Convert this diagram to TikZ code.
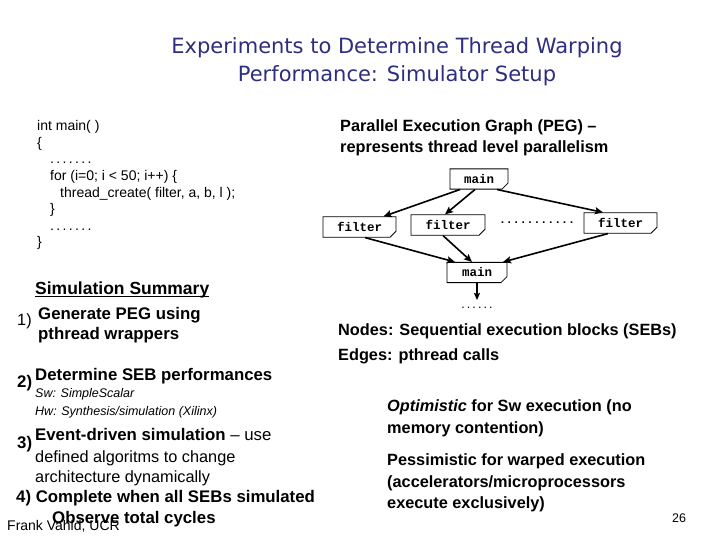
\documentclass[tikz,border=0pt]{standalone}
\usepackage{fontspec}
\setmainfont{Liberation Sans}
\newfontfamily\titlefont{DejaVu Sans}
\newfontfamily\codefont{Liberation Mono}
\usetikzlibrary{positioning, arrows.meta, shapes.misc}
\definecolor{titleblue}{HTML}{2E2E7E}

\begin{document}
\begin{tikzpicture}[
  x=1pt, y=-1pt,
  every node/.style={inner sep=0pt, anchor=base west},
  heading/.style={font=\titlefont\fontsize{21}{25}\selectfont, text=titleblue, anchor=base},
  code/.style={font=\fontsize{14}{16}\selectfont},
  bold/.style={font=\bfseries\fontsize{16.8}{19}\selectfont},
  body/.style={font=\bfseries\fontsize{16.3}{19}\selectfont},
  plain/.style={font=\fontsize{16.3}{19}\selectfont},
  note/.style={font=\itshape\fontsize{12.5}{15}\selectfont},
  small/.style={font=\fontsize{12.5}{15}\selectfont},
  seb/.style={
    chamfered rectangle, chamfered rectangle corners=south east,
    chamfered rectangle xsep=2.5pt,
    draw=black, line width=0.8pt, fill=white,
    anchor=center, inner xsep=4pt, inner ysep=2pt,
    minimum height=20pt,
    font=\codefont\bfseries\fontsize{12.5}{14}\selectfont
  },
  call/.style={-{Stealth[length=8pt, width=7pt, inset=1.5pt]}, line width=1.6pt},
  down/.style={-{Stealth[length=7pt, width=6pt, inset=1pt]}, line width=1.2pt}
]
\useasboundingbox (0,0) rectangle (720,540);
\fill[white] (0,0) rectangle (720,540);

% --- Title
\node[heading] (title1) at (397,53.5) {Experiments to Determine Thread Warping};
\node[heading] (title2) at (397,81.5) {Performance: Simulator Setup};

% --- Source code (top left)
\node[code] (c1) at (37,131) {int main( )};
\node[code] (c2) at (37,147.5) {\{};
\node[code] (c3) at (50,164) {.\,.\,.\,.\,.\,.\,.};
\node[code] (c4) at (50,180.5) {for (i=0; i < 50; i++) \{};
\node[code] (c5) at (60,197) {thread\_create( filter, a, b, l );};
\node[code] (c6) at (50,213.5) {\}};
\node[code] (c7) at (50,230) {.\,.\,.\,.\,.\,.\,.};
\node[code] (c8) at (37,246.5) {\}};

% --- PEG caption
\node[body] (peg1) at (340,131.5) {Parallel Execution Graph (PEG) --};
\node[body] (peg2) at (340,152.5) {represents thread level parallelism};

% --- Parallel execution graph
\node[seb, minimum width=58pt] (maintop) at (479,179) {main};
\node[seb, minimum width=73pt] (filterA) at (359.5,227) {filter};
\node[seb, minimum width=74pt] (filterB) at (448,225) {filter};
\node[font=\codefont\bfseries\fontsize{11.5}{13}\selectfont, anchor=base]
  (gap) at (537,224) {...........};
\node[seb, minimum width=73pt] (filterC) at (620.5,223) {filter};
\node[seb, minimum width=60pt] (mainbot) at (477,272.5) {main};
\coordinate (after) at (477,300);
\node[small, anchor=base] (more) at (477,308) {.\,.\,.\,.\,.\,.};

% --- Graph legend
\node[body] (legN) at (338,335) {Nodes: Sequential execution blocks (SEBs)};
\node[body] (legE) at (338,360) {Edges: pthread calls};

\node[body] (opt1) at (387,411) {\textit{Optimistic} for Sw execution (no};
\node[body] (opt2) at (387,433) {memory contention)};
\node[body] (pes1) at (387,465) {Pessimistic for warped execution};
\node[body] (pes2) at (387,487) {(accelerators/microprocessors};
\node[body] (pes3) at (387,508) {execute exclusively)};

% --- Simulation summary (bottom left)
\node[bold, font=\bfseries\fontsize{17.5}{20}\selectfont] (simsum) at (35,294) {Simulation Summary};
\draw[line width=1.2pt] ([yshift=-2.5pt]simsum.base west) -- ([yshift=-2.5pt]simsum.base east);

\node[plain] (n1) at (17,325) {1)};
\node[bold] (s1a) at (38,319) {Generate PEG using};
\node[bold] (s1b) at (38,339) {pthread wrappers};

\node[bold] (n2) at (17,387) {2)};
\node[bold] (s2a) at (35,380) {Determine SEB performances};
\node[note] (s2b) at (35,397) {Sw: SimpleScalar};
\node[note] (s2c) at (35,415) {Hw: Synthesis/simulation (Xilinx)};

\node[bold] (n3) at (17,448) {3)};
\node[plain] (s3a) at (35,440.5) {\bfseries\fontsize{16.8}{19}\selectfont Event-driven simulation \mdseries -- use};
\node[plain] (s3b) at (35,462) {defined algoritms to change};
\node[plain] (s3c) at (35,482.5) {architecture dynamically};

\node[bold] (s4a) at (16,502) {4) Complete when all SEBs simulated};

\node[small, font=\fontsize{14}{16}\selectfont] (author) at (7,530) {Frank Vahid, UCR};
\node[bold] (s4b) at (52,523) {Observe total cycles};
\node[small] (page) at (672,522) {26};

% --- Edges
\draw[call] ([xshift=-19pt]maintop.south) -- ([xshift=24pt]filterA.north);
\draw[call] ([xshift=-4pt]maintop.south) -- ([xshift=-3pt]filterB.north);
\draw[call] ([xshift=18pt]maintop.south) -- ([xshift=-17.5pt]filterC.north);
\draw[call] ([xshift=5.5pt]filterA.south) -- ([xshift=-22pt]mainbot.north);
\draw[call] ([xshift=-5pt]filterB.south) -- ([xshift=-5pt]mainbot.north);
\draw[call] ([xshift=-12.5pt]filterC.south) -- ([xshift=26pt]mainbot.north);
\draw[down] (mainbot.south) -- (after);

\end{tikzpicture}
\end{document}
